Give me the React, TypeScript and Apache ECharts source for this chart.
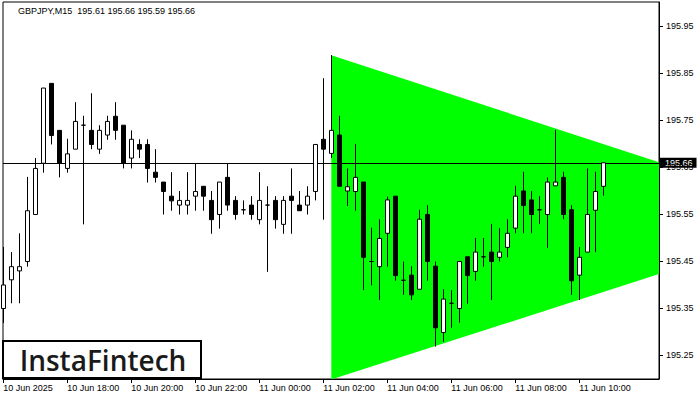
import React, { useEffect, useRef } from "react";
import * as echarts from "echarts";

// OHLC data (15-minute candles, index 0 = 10 Jun 16:00)
const opens = [
  195.350, 195.411, 195.430, 195.450, 195.550, 195.659, 195.829, 195.729, 195.648, 195.689,
  195.740, 195.729, 195.689, 195.719, 195.759, 195.740, 195.670, 195.699, 195.699, 195.640,
  195.619, 195.589, 195.570, 195.570, 195.589, 195.610, 195.580, 195.550, 195.629, 195.580,
  195.560, 195.570, 195.539, 195.570, 195.580, 195.529, 195.589, 195.570, 195.570, 195.599,
  195.710, 195.680, 195.719, 195.600, 195.599, 195.619, 195.450, 195.439, 195.510, 195.589,
  195.410, 195.421, 195.391, 195.550, 195.440, 195.299, 195.361, 195.350, 195.460, 195.429,
  195.460, 195.470, 195.459, 195.480, 195.521, 195.600, 195.581, 195.560, 195.550, 195.611,
  195.629, 195.560, 195.421, 195.470, 195.559, 195.610,
];
const closes = [
  195.400, 195.439, 195.439, 195.558, 195.648, 195.819, 195.718, 195.659, 195.679, 195.748,
  195.740, 195.699, 195.729, 195.748, 195.729, 195.659, 195.710, 195.689, 195.648, 195.629,
  195.599, 195.579, 195.580, 195.580, 195.599, 195.589, 195.539, 195.619, 195.570, 195.550,
  195.560, 195.550, 195.580, 195.570, 195.539, 195.580, 195.580, 195.558, 195.589, 195.699,
  195.689, 195.729, 195.610, 195.609, 195.629, 195.459, 195.450, 195.499, 195.581, 195.420,
  195.410, 195.379, 195.540, 195.450, 195.309, 195.370, 195.361, 195.450, 195.420, 195.470,
  195.460, 195.450, 195.470, 195.510, 195.589, 195.569, 195.550, 195.560, 195.619, 195.619,
  195.550, 195.409, 195.459, 195.550, 195.599, 195.660,
];
const lows = [
  195.319, 195.361, 195.361, 195.439, 195.550, 195.639, 195.699, 195.629, 195.639, 195.689,
  195.529, 195.689, 195.679, 195.709, 195.709, 195.648, 195.648, 195.670, 195.618, 195.618,
  195.550, 195.558, 195.550, 195.550, 195.558, 195.558, 195.509, 195.520, 195.558, 195.539,
  195.550, 195.539, 195.529, 195.428, 195.520, 195.509, 195.509, 195.558, 195.550, 195.580,
  195.539, 195.670, 195.610, 195.568, 195.558, 195.389, 195.399, 195.368, 195.439, 195.409,
  195.379, 195.368, 195.391, 195.409, 195.269, 195.279, 195.309, 195.320, 195.360, 195.409,
  195.439, 195.368, 195.450, 195.459, 195.510, 195.510, 195.510, 195.530, 195.479, 195.611,
  195.540, 195.379, 195.368, 195.470, 195.470, 195.590,
];
const highs = [
  195.481, 195.470, 195.510, 195.630, 195.670, 195.819, 195.829, 195.729, 195.711, 195.789,
  195.760, 195.808, 195.740, 195.760, 195.789, 195.740, 195.729, 195.710, 195.710, 195.689,
  195.619, 195.640, 195.600, 195.640, 195.659, 195.610, 195.600, 195.619, 195.659, 195.589,
  195.580, 195.589, 195.640, 195.610, 195.589, 195.589, 195.648, 195.600, 195.610, 195.699,
  195.840, 195.889, 195.760, 195.648, 195.700, 195.619, 195.522, 195.540, 195.588, 195.589,
  195.450, 195.440, 195.560, 195.570, 195.450, 195.391, 195.389, 195.450, 195.460, 195.500,
  195.500, 195.530, 195.521, 195.540, 195.611, 195.641, 195.600, 195.589, 195.629, 195.730,
  195.641, 195.570, 195.481, 195.648, 195.641, 195.660,
];

// Time axis ticks (candle index -> label)
const tickIndices = [0, 8, 16, 24, 32, 40, 48, 56, 64, 72];
const tickLabels = [
  "10 Jun 2025", "10 Jun 18:00", "10 Jun 20:00", "10 Jun 22:00", "11 Jun 00:00",
  "11 Jun 02:00", "11 Jun 04:00", "11 Jun 06:00", "11 Jun 08:00", "11 Jun 10:00",
];
// Price axis ticks
const priceTicks = [195.25, 195.35, 195.45, 195.55, 195.65, 195.75, 195.85, 195.95];

// Symmetrical triangle pattern vertices (candle index, price)
const triangleX = [41, 41, 103.5];
const triangleY = [195.889, 195.199, 195.541];

const lastPrice = 195.66;
const headerText = "GBPJPY,M15  195.61 195.66 195.59 195.66";
const logoText = "InstaFintech";

const FONT = "'Liberation Sans', Arial, sans-serif";

export default function App() {
  const ref = useRef<HTMLDivElement>(null);

  useEffect(() => {
    document.body.style.margin = "0";
    if (!ref.current) return;
    const chart = echarts.init(ref.current, null, { renderer: "svg" });

    const candleData = opens.map((o, i) => [i, o, closes[i], lows[i], highs[i]]);

    const option: any = {
      animation: false,
      backgroundColor: "#fff",
      grid: {
        left: 3,
        top: 2,
        right: 41,
        bottom: 21,
        show: true,
        borderColor: "#000",
        borderWidth: 1,
        backgroundColor: "transparent",
        outerBoundsMode: "none",
      },
      xAxis: {
        type: "value",
        min: -0.0375,
        max: 81.9625,
        z: 5,
        axisLine: { show: true, onZero: false, lineStyle: { color: "#000", width: 1 } },
        axisTick: {
          show: true,
          length: 4,
          customValues: tickIndices,
          lineStyle: { color: "#000", width: 1 },
        },
        axisLabel: {
          customValues: tickIndices,
          formatter: (v: number) => {
            const k = tickIndices.indexOf(Math.round(v));
            return k >= 0 ? tickLabels[k] : "";
          },
          align: "left",
          margin: 4,
          color: "#000",
          fontSize: 9,
          fontFamily: FONT,
        },
        splitLine: { show: false },
      },
      yAxis: {
        type: "value",
        position: "right",
        min: 195.2,
        max: 196.0021,
        z: 5,
        axisLine: { show: true, onZero: false, lineStyle: { color: "#000", width: 1 } },
        axisTick: {
          show: true,
          length: 4,
          customValues: priceTicks,
          lineStyle: { color: "#000", width: 1 },
        },
        axisLabel: {
          customValues: priceTicks,
          formatter: (v: number) => v.toFixed(2),
          margin: 7,
          color: "#000",
          fontSize: 9,
          fontFamily: FONT,
        },
        splitLine: { show: false },
      },
      series: [
        {
          type: "custom",
          z: 1,
          clip: true,
          silent: true,
          data: [[triangleX[0], triangleY[0]]],
          encode: { x: 0, y: 1 },
          renderItem: (_params: any, api: any) => {
            const pts = triangleX.map((x, k) => api.coord([x, triangleY[k]]));
            return {
              type: "polygon",
              shape: { points: pts },
              style: { fill: "#00ff00", stroke: null },
            };
          },
        },
        {
          type: "candlestick",
          z: 6,
          barWidth: 5,
          silent: true,
          data: candleData,
          encode: { x: 0, y: [1, 2, 3, 4] },
          itemStyle: {
            color: "#ffffff",
            color0: "#000000",
            borderColor: "#000000",
            borderColor0: "#000000",
            borderColorDoji: "#000000",
            borderWidth: 1,
          },
          markLine: {
            silent: true,
            symbol: ["none", "none"],
            animation: false,
            lineStyle: { color: "#000", width: 1, type: "solid" },
            label: {
              show: true,
              position: "end",
              distance: 0,
              formatter: () => lastPrice.toFixed(2),
              color: "#fff",
              backgroundColor: "#000",
              fontSize: 9,
              fontFamily: FONT,
              lineHeight: 10,
              padding: [0, 4, 0, 6],
            },
            emphasis: { disabled: true },
            data: [{ yAxis: lastPrice }],
          },
        },
      ],
      graphic: [
        {
          type: "text",
          x: 18,
          y: 6,
          z: 20,
          style: {
            text: headerText,
            fill: "#000",
            fontSize: 9,
            fontFamily: FONT,
            align: "left",
            verticalAlign: "top",
          },
        },
        {
          type: "rect",
          x: 3,
          y: 341,
          z: 20,
          shape: { x: 0, y: 0, width: 198, height: 37 },
          style: { fill: "#fff", stroke: "#000", lineWidth: 2 },
        },
        {
          type: "text",
          x: 103,
          y: 360,
          z: 21,
          style: {
            text: logoText,
            fill: "#1a1a1a",
            fontSize: 28,
            fontWeight: 600,
            fontFamily: "'Open Sans', sans-serif",
            align: "center",
            verticalAlign: "middle",
          },
        },
      ],
    };

    chart.setOption(option);
    return () => chart.dispose();
  }, []);

  return (
    <div
      ref={ref}
      style={{ width: 700, height: 400, position: "fixed", left: 0, top: 0 }}
    />
  );
}
